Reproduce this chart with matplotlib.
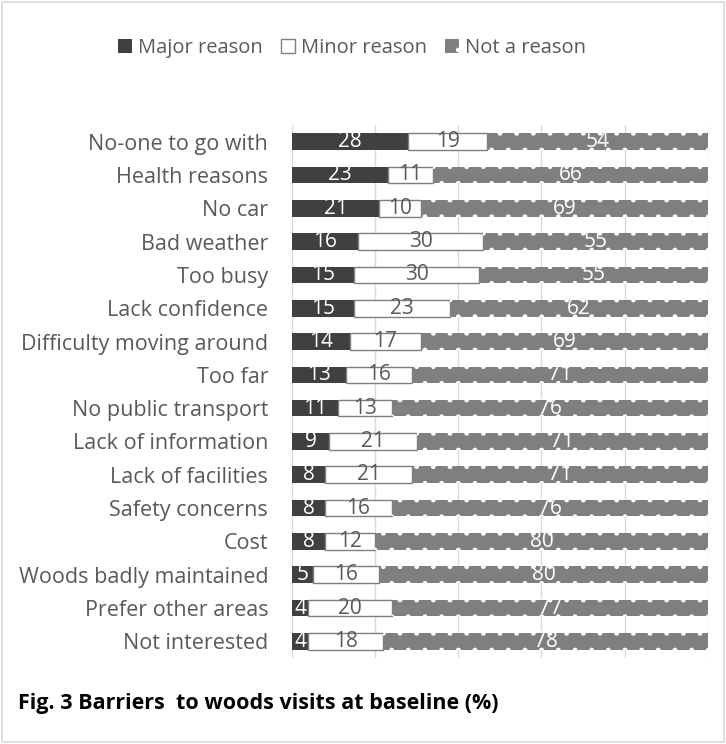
import matplotlib
matplotlib.use("Agg")
import matplotlib.pyplot as plt
from matplotlib.patches import Rectangle
import numpy as np

plt.rcParams['font.family'] = ['Open Sans', 'DejaVu Sans']
plt.rcParams['hatch.linewidth'] = 1.0

categories = ["No-one to go with", "Health reasons", "No car", "Bad weather", "Too busy",
              "Lack confidence", "Difficulty moving around", "Too far", "No public transport",
              "Lack of information", "Lack of facilities", "Safety concerns", "Cost",
              "Woods badly maintained", "Prefer other areas", "Not interested"]
major = [28, 23, 21, 16, 15, 15, 14, 13, 11, 9, 8, 8, 8, 5, 4, 4]
minor = [19, 11, 10, 30, 30, 23, 17, 16, 13, 21, 21, 16, 12, 16, 20, 18]
notr = [54, 66, 69, 55, 55, 62, 69, 71, 76, 71, 71, 76, 80, 80, 77, 78]
series_names = ["Major reason", "Minor reason", "Not a reason"]

fig = plt.figure(figsize=(7.26, 7.44), dpi=100)
ax = fig.add_axes([0.402, 1 - 658/744, 0.573, 533/744])

y = np.arange(len(categories))
h = 0.5
major_a = np.array(major); minor_a = np.array(minor); not_a = np.array(notr)
dark = '#404040'; grey = '#7f7f7f'; txtc = '#595959'

b1 = ax.barh(y, major_a, height=h, color=dark, label=series_names[0], zorder=3)
b2 = ax.barh(y, minor_a, left=major_a, height=h, color='white', edgecolor='#7f7f7f',
             linewidth=1, label=series_names[1], zorder=3)
b3 = ax.barh(y, not_a, left=major_a + minor_a, height=h, facecolor=grey, edgecolor='white',
             hatch='.', linewidth=0, label=series_names[2], zorder=3)

fs = 15.5
dfs = 15
for i in range(len(categories)):
    ax.text(major_a[i] / 2, y[i], str(major_a[i]), ha='center', va='center', color='white', fontsize=dfs, zorder=5)
    ax.text(major_a[i] + minor_a[i] / 2, y[i], str(minor_a[i]), ha='center', va='center', color=txtc, fontsize=dfs, zorder=5)
    mid = major_a[i] + minor_a[i] + not_a[i] / 2
    ax.text(min(mid, (major_a[i] + minor_a[i] + 100) / 2), y[i], str(not_a[i]), ha='center', va='center', color='white', fontsize=dfs, zorder=5)

ax.set_xlim(0, 100)
ax.set_ylim(len(categories) - 0.5, -0.5)
ax.set_xticks(np.arange(0, 101, 20))
ax.set_xticklabels([])
ax.tick_params(axis='x', length=0)
ax.tick_params(axis='y', length=0, pad=17, labelsize=fs, labelcolor=txtc)
ax.set_yticks(y)
ax.set_yticklabels(categories)
ax.grid(axis='x', color='#d9d9d9', linewidth=1, zorder=0)
for s in ax.spines.values():
    s.set_visible(False)

leg = fig.legend(handles=[b1, b2, b3], labels=series_names, loc='center',
                 bbox_to_anchor=(352/726, 1 - 48/744), ncol=3, frameon=False,
                 fontsize=14.5, labelcolor=txtc, handlelength=0.7, handleheight=0.7,
                 handletextpad=0.3, columnspacing=0.9)

fig.text(18/726, 1 - 703/744, "Fig. 3 Barriers  to woods visits at baseline (%)",
         fontsize=15.5, fontweight='bold', color='black', ha='left', va='center')

fig.patches.append(Rectangle((0.003, 0.003), 0.994, 0.994, transform=fig.transFigure,
                             fill=False, edgecolor='#d9d9d9', linewidth=1.2))

fig.savefig("out.png", dpi=100)
